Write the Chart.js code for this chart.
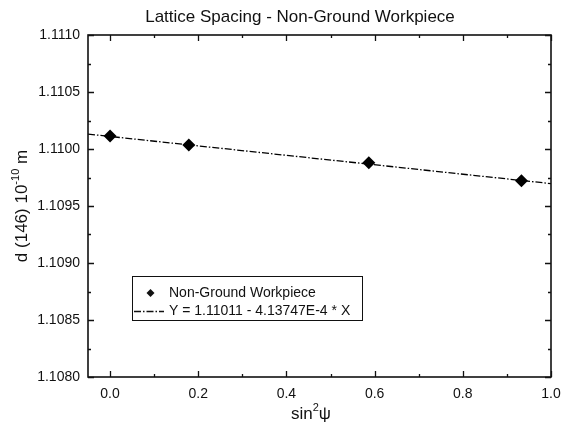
<!DOCTYPE html>
<html>
<head>
<meta charset="utf-8">
<script src="https://cdn.jsdelivr.net/npm/chart.js@4"></script>
<style>
  html, body { margin: 0; padding: 0; background: #fff; }
  #wrap { width: 561px; height: 425px; }
</style>
</head>
<body>
<div id="wrap"><canvas id="latticeChart" width="561" height="425"></canvas></div>
<script>
// measured d-spacing vs sin^2(psi)
const sin2psi = [0.0, 0.1786, 0.5868, 0.9330];
const dSpacing = [1.110114, 1.110035, 1.109880, 1.109722];

// linear fit from the legend text
const fitIntercept = 1.11011;
const fitSlope = -4.13747e-4;
const fitX = [-0.05, 1.0];

const xMajorTicks = [0.0, 0.2, 0.4, 0.6, 0.8, 1.0];
const xMinorTicks = [0.1, 0.3, 0.5, 0.7, 0.9];
const yMajorTicks = [1.1080, 1.1085, 1.1090, 1.1095, 1.1100, 1.1105, 1.1110];
const yMinorTicks = [1.10825, 1.10875, 1.10925, 1.10975, 1.11025, 1.11075];

const FONT = '"Liberation Sans", Arial, sans-serif';
const INK = '#111';

// frame, inward ticks on all four sides, titles and the boxed legend
const decorations = {
  id: 'decorations',
  afterDatasetsDraw(chart) {
    const ctx = chart.ctx;
    const a = chart.chartArea;
    const xs = chart.scales.x, ys = chart.scales.y;
    ctx.save();
    ctx.strokeStyle = INK;
    ctx.lineWidth = 1.6;
    ctx.strokeRect(a.left, a.top, a.right - a.left, a.bottom - a.top);

    ctx.lineWidth = 1.3;
    ctx.beginPath();
    const tick = (vals, len) => {
      vals.forEach(v => {
        const px = Math.round(xs.getPixelForValue(v)) + 0.5;
        ctx.moveTo(px, a.bottom); ctx.lineTo(px, a.bottom - len);
        ctx.moveTo(px, a.top); ctx.lineTo(px, a.top + len);
      });
    };
    const ytick = (vals, len) => {
      vals.forEach(v => {
        const py = Math.round(ys.getPixelForValue(v)) + 0.5;
        ctx.moveTo(a.left, py); ctx.lineTo(a.left + len, py);
        ctx.moveTo(a.right, py); ctx.lineTo(a.right - len, py);
      });
    };
    tick(xMajorTicks, 6); tick(xMinorTicks, 3);
    ytick(yMajorTicks, 6); ytick(yMinorTicks, 3);
    ctx.stroke();

    ctx.fillStyle = INK;
    ctx.textBaseline = 'alphabetic';

    // chart title
    ctx.font = '17px ' + FONT;
    ctx.textAlign = 'center';
    ctx.fillText('Lattice Spacing - Non-Ground Workpiece', 300, 22);

    // x axis title: sin²ψ
    const big = '17px ' + FONT, small = '11px ' + FONT;
    ctx.font = big;
    const w1 = ctx.measureText('sin').width;
    const w3 = ctx.measureText('\u03C8').width;
    ctx.font = small;
    const w2 = ctx.measureText('2').width;
    let x0 = 311 - (w1 + w2 + w3) / 2;
    ctx.textAlign = 'left';
    ctx.font = big; ctx.fillText('sin', x0, 419);
    ctx.font = small; ctx.fillText('2', x0 + w1, 411);
    ctx.font = big; ctx.fillText('\u03C8', x0 + w1 + w2, 419);

    // y axis title: d (146) 10^-10 m
    ctx.translate(27, 206);
    ctx.rotate(-Math.PI / 2);
    const p1 = 'd (146) 10', p2 = '-10', p3 = ' m';
    ctx.font = big;
    const q1 = ctx.measureText(p1).width, q3 = ctx.measureText(p3).width;
    ctx.font = small;
    const q2 = ctx.measureText(p2).width;
    x0 = -(q1 + q2 + q3) / 2;
    ctx.font = big; ctx.fillText(p1, x0, 0);
    ctx.font = small; ctx.fillText(p2, x0 + q1, -8);
    ctx.font = big; ctx.fillText(p3, x0 + q1 + q2, 0);
    ctx.restore();

    // legend box
    ctx.save();
    const box = { left: 132, top: 276, right: 362, bottom: 320 };
    ctx.strokeStyle = INK;
    ctx.lineWidth = 1;
    ctx.strokeRect(box.left + 0.5, box.top + 0.5, box.right - box.left, box.bottom - box.top);
    ctx.font = '14px ' + FONT;
    ctx.fillStyle = INK;
    ctx.textAlign = 'left';
    ctx.textBaseline = 'middle';
    const pts = chart.data.datasets[0], fit = chart.data.datasets[1];
    // small diamond symbol
    ctx.beginPath();
    ctx.moveTo(150.5, 289); ctx.lineTo(154.5, 293); ctx.lineTo(150.5, 297); ctx.lineTo(146.5, 293);
    ctx.closePath();
    ctx.fill();
    ctx.fillText(pts.label, 169, 293);
    ctx.beginPath();
    ctx.setLineDash(fit.borderDash);
    ctx.lineWidth = fit.borderWidth;
    ctx.moveTo(134, 311.5); ctx.lineTo(164, 311.5);
    ctx.stroke();
    ctx.setLineDash([]);
    ctx.fillText(fit.label, 169, 311);
    ctx.restore();
  }
};

new Chart(document.getElementById('latticeChart'), {
  type: 'scatter',
  data: {
    datasets: [
      {
        label: 'Non-Ground Workpiece',
        data: sin2psi.map((x, i) => ({ x: x, y: dSpacing[i] })),
        pointStyle: 'rectRot',
        pointRadius: 6.5,
        pointBackgroundColor: '#000',
        pointBorderColor: '#000',
        pointBorderWidth: 0,
        showLine: false,
        order: 0
      },
      {
        label: 'Y = 1.11011 - 4.13747E-4 * X',
        data: fitX.map(x => ({ x: x, y: fitIntercept + fitSlope * x })),
        showLine: true,
        borderColor: '#000',
        borderWidth: 1.3,
        borderDash: [7, 2, 1.5, 2],
        pointRadius: 0,
        order: 1
      }
    ]
  },
  plugins: [decorations],
  options: {
    responsive: false,
    animation: false,
    layout: { padding: { top: 35, right: 10, left: 0, bottom: 0 } },
    plugins: {
      legend: { display: false },
      tooltip: { enabled: false },
      title: { display: false }
    },
    scales: {
      x: {
        type: 'linear',
        min: -0.05,
        max: 1.0,
        grid: { display: false, drawTicks: false },
        border: { display: false },
        afterBuildTicks(scale) { scale.ticks = xMajorTicks.map(v => ({ value: v })); },
        afterFit(scale) { scale.height = 48; scale.paddingLeft = 0; scale.paddingRight = 0; },
        ticks: {
          padding: 9,
          color: INK,
          font: { family: FONT, size: 14 },
          maxRotation: 0,
          callback: v => v.toFixed(1)
        }
      },
      y: {
        type: 'linear',
        min: 1.1080,
        max: 1.1110,
        grid: { display: false, drawTicks: false },
        border: { display: false },
        afterBuildTicks(scale) { scale.ticks = yMajorTicks.map(v => ({ value: v })); },
        afterFit(scale) { scale.width = 88; scale.paddingTop = 0; scale.paddingBottom = 0; },
        ticks: {
          padding: 8,
          color: INK,
          font: { family: FONT, size: 14 },
          callback: v => v.toFixed(4)
        }
      }
    }
  }
});
</script>
</body>
</html>
